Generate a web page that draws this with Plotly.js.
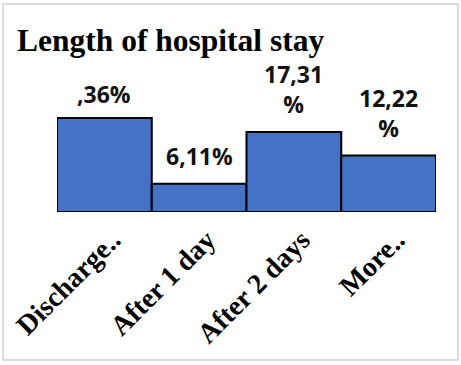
<!DOCTYPE html>
<html>
<head>
<meta charset="utf-8">
<script src="https://cdn.plot.ly/plotly-3.0.1.min.js"></script>
<style>
  html, body { margin: 0; padding: 0; background: #ffffff; }
  #chart { width: 461px; height: 365px; }
</style>
</head>
<body>
<div id="chart"></div>
<script>
// Length of hospital stay, share of patients (%)
const categories = ["Discharge..", "After 1 day", "After 2 days", "More.."];
const shares = [20.36, 6.11, 17.31, 12.22];
const shareLabels = [",36%", "6,11%", "17,31<br>%", "12,22<br>%"];

const barTrace = {
  type: "bar",
  x: categories,
  y: shares,
  width: 1,
  marker: {
    color: "#4472C4",
    line: { color: "#000000", width: 2 }
  },
  hoverinfo: "skip"
};

const valueNotes = categories.map((c, i) => ({
  x: c,
  y: shares[i],
  xref: "x",
  yref: "y",
  text: shareLabels[i],
  showarrow: false,
  yanchor: "bottom",
  yshift: i === 0 ? 6 : 10,
  font: { family: "Open Sans, sans-serif", size: 23, color: "#111111", weight: 700 }
}));

const layout = {
  width: 461,
  height: 365,
  margin: { l: 57, r: 25, t: 100, b: 153, pad: 0 },
  paper_bgcolor: "#ffffff",
  plot_bgcolor: "#ffffff",
  showlegend: false,
  bargap: 0,
  title: {
    text: "<b>Length of hospital stay</b>",
    x: 17 / 461,
    xanchor: "left",
    y: 1 - 40 / 365,
    yanchor: "middle",
    font: { family: "Liberation Serif, Times New Roman, serif", size: 31.5, color: "#000000" }
  },
  xaxis: {
    type: "category",
    range: [-0.5, 3.5],
    showline: false,
    showgrid: false,
    zeroline: false,
    ticks: "",
    tickangle: -45,
    ticklabelstandoff: 5,
    ticklabelshift: 8,
    automargin: false,
    tickfont: { family: "Liberation Serif, Times New Roman, serif", size: 28, color: "#000000", weight: 700 },
    fixedrange: true
  },
  yaxis: {
    range: [0, 24.24],
    visible: false,
    showgrid: false,
    zeroline: false,
    fixedrange: true
  },
  annotations: valueNotes,
  shapes: [{
    type: "rect",
    xref: "paper",
    yref: "paper",
    x0: -54 / 380,
    x1: 1 + 22 / 380,
    y0: -148 / 112,
    y1: 1 + 96 / 112,
    line: { color: "#dcdcdc", width: 2 },
    fillcolor: "rgba(0,0,0,0)",
    layer: "below"
  }]
};

Plotly.newPlot("chart", [barTrace], layout, { displayModeBar: false, staticPlot: true });
</script>
</body>
</html>
